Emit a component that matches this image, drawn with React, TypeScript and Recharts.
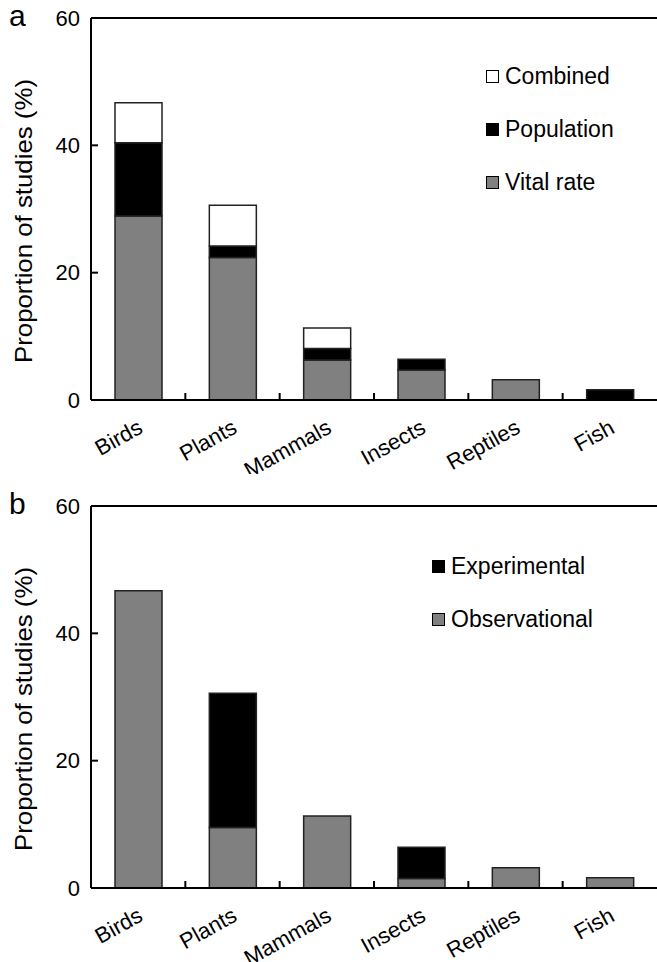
import { BarChart, Bar, XAxis, YAxis, Legend, ReferenceLine } from 'recharts';

const categories = ['Birds', 'Plants', 'Mammals', 'Insects', 'Reptiles', 'Fish'];

// panel a: response type
const vitalRate = [28.9, 22.4, 6.3, 4.7, 3.2, 0];
const population = [11.5, 1.8, 1.8, 1.7, 0, 1.6];
const combined = [6.3, 6.4, 3.2, 0, 0, 0];

// panel b: study design
const observational = [46.7, 9.5, 11.3, 1.5, 3.2, 1.6];
const experimental = [0, 21.1, 0, 4.9, 0, 0];

const yTicks = [0, 20, 40, 60];

const FONT = '"Liberation Sans", Arial, Helvetica, sans-serif';
const GRAY = '#808080';

const dataA = categories.map((name, i) => ({
  name,
  vital: vitalRate[i],
  population: population[i],
  combined: combined[i],
}));

const dataB = categories.map((name, i) => ({
  name,
  observational: observational[i],
  experimental: experimental[i],
}));

const seriesA = [
  { key: 'vital', name: 'Vital rate', fill: GRAY },
  { key: 'population', name: 'Population', fill: '#000' },
  { key: 'combined', name: 'Combined', fill: '#fff' },
];

const seriesB = [
  { key: 'observational', name: 'Observational', fill: GRAY },
  { key: 'experimental', name: 'Experimental', fill: '#000' },
];

function CategoryTick(props: any) {
  const { x, y, payload, index, width } = props;
  const half = payload?.offset ?? width / categories.length / 2;
  const last = index === categories.length - 1;
  const tx = x + 6;
  const ty = y + 32;
  return (
    <g>
      {!last && <line x1={x + half} x2={x + half} y1={y} y2={y - 7} stroke="#000" strokeWidth={2} />}
      <text
        x={tx}
        y={ty}
        textAnchor="end"
        transform={`rotate(-29, ${tx}, ${ty})`}
        fontSize={22}
        fontFamily={FONT}
        fill="#000"
      >
        {payload.value}
      </text>
    </g>
  );
}

function YLabel(props: any) {
  const vb = props.viewBox || { y: 0, height: 0 };
  const cx = 23;
  const cy = vb.y + vb.height / 2 + 12;
  return (
    <text
      x={cx}
      y={cy}
      transform={`rotate(-90, ${cx}, ${cy})`}
      textAnchor="middle"
      dominantBaseline="central"
      fontSize={24}
      textLength={284}
      lengthAdjust="spacingAndGlyphs"
      fontFamily={FONT}
      fill="#000"
    >
      Proportion of studies (%)
    </text>
  );
}

function StackLegend({ payload }: any) {
  const items = payload || [];
  return (
    <div style={{ fontFamily: FONT, fontSize: 23, color: '#000' }}>
      {items.map((e: any) => (
        <div key={e.value} style={{ display: 'flex', alignItems: 'center', height: 53 }}>
          <span
            style={{
              display: 'inline-block',
              width: 11,
              height: 11,
              background: e.color,
              border: '1px solid #000',
              marginRight: 6,
            }}
          />
          {e.value}
        </div>
      ))}
    </div>
  );
}

function Panel({ letter, data, series, legendPos }: any) {
  return (
    <div style={{ position: 'relative', width: 657, height: 474 }}>
      <div
        style={{
          position: 'absolute',
          left: 9,
          top: 1,
          lineHeight: '30px',
          fontFamily: FONT,
          fontSize: 30,
          color: '#000',
        }}
      >
        {letter}
      </div>
      <BarChart width={657} height={474} data={data} margin={{ top: 18, right: 0, bottom: 0, left: 0 }}>
        <XAxis
          dataKey="name"
          height={74}
          interval={0}
          tickLine={false}
          tickSize={0}
          tickMargin={0}
          tick={<CategoryTick />}
          axisLine={{ stroke: '#000', strokeWidth: 2 }}
        />
        <YAxis
          width={91}
          domain={[0, 60]}
          ticks={yTicks}
          interval={0}
          tickSize={-7}
          tickMargin={18}
          tickLine={{ stroke: '#000', strokeWidth: 2 }}
          axisLine={{ stroke: '#000', strokeWidth: 2 }}
          tick={{ fontSize: 22, fontFamily: FONT, fill: '#000' }}
          label={{ content: YLabel }}
        />
        <ReferenceLine y={60} stroke="#000" strokeWidth={2} />
        <Legend
          layout="vertical"
          align="center"
          verticalAlign="middle"
          content={StackLegend}
          wrapperStyle={{ top: legendPos.top, left: legendPos.left, width: 180, height: 'auto' }}
        />
        {series.map((s: any) => (
          <Bar
            key={s.key}
            dataKey={s.key}
            name={s.name}
            stackId="s"
            fill={s.fill}
            stroke="#222"
            strokeWidth={1.5}
            barSize={47}
            isAnimationActive={false}
          />
        ))}
      </BarChart>
    </div>
  );
}

export default function App() {
  return (
    <div style={{ position: 'absolute', left: 0, top: 0, width: 657, height: 962, background: '#fff' }}>
      <div style={{ position: 'absolute', left: 0, top: 0 }}>
        <Panel letter="a" data={dataA} series={seriesA} legendPos={{ top: 50, left: 486 }} />
      </div>
      <div style={{ position: 'absolute', left: 0, top: 488 }}>
        <Panel letter="b" data={dataB} series={seriesB} legendPos={{ top: 52, left: 432 }} />
      </div>
    </div>
  );
}
